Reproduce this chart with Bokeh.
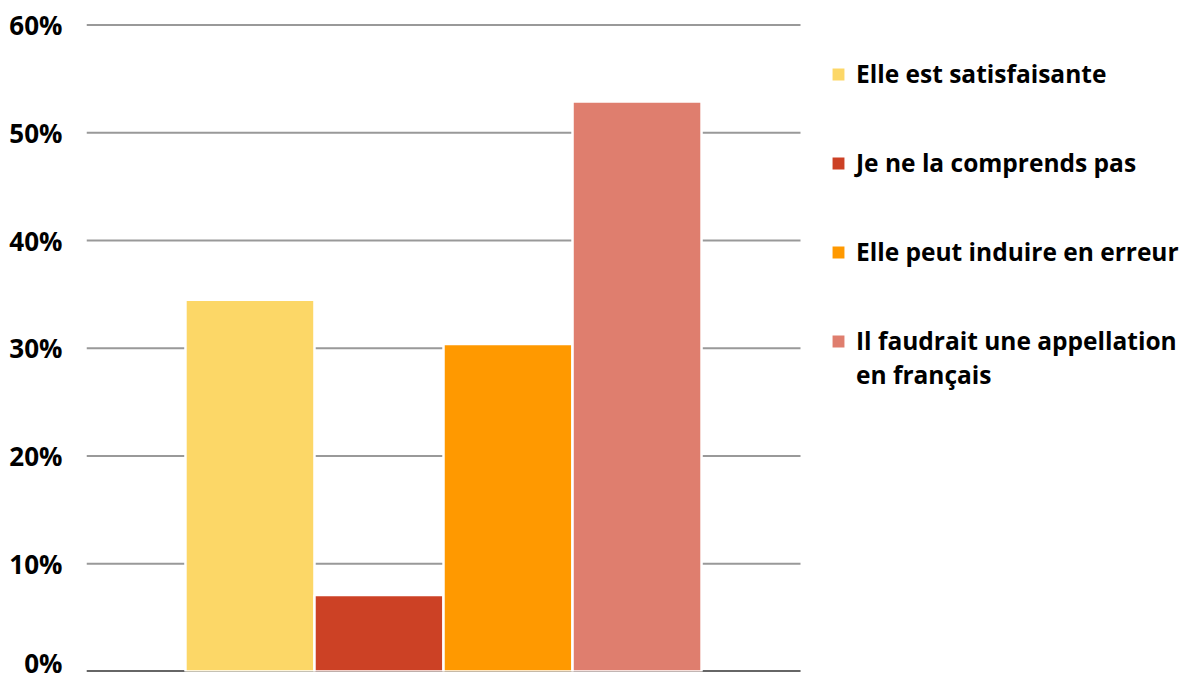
import numpy as np
from bokeh.plotting import figure
from bokeh.models import (ColumnDataSource, Range1d, FixedTicker, PrintfTickFormatter,
                          Legend, LegendItem)
from bokeh.embed import file_html
from bokeh.resources import INLINE

# ---- data ----
categories = ["Elle est satisfaisante", "Je ne la comprends pas",
              "Elle peut induire en erreur", "Il faudrait une appellation"]
label_continuation = "en français"
values = [34.5, 7.1, 30.4, 52.9]
colors = ["#FCD767", "#CC4125", "#FF9900", "#DF7E6E"]
y_ticks = [0, 10, 20, 30, 40, 50, 60]

FONT = "Open Sans"

n = len(categories)
xpos = np.arange(n) - (n - 1) / 2.0
half_span = 2.767          # half width of the plotting area, in bar slots
px_per_slot = 714 / (2 * half_span)
frame_w = 1098
x_end = -half_span + frame_w / px_per_slot

p = figure(frame_width=frame_w, frame_height=648,
           output_backend="svg", toolbar_location=None,
           x_range=Range1d(-half_span, x_end), y_range=Range1d(0, 60.15),
           min_border_left=86, min_border_top=23, min_border_bottom=9,
           min_border_right=0, outline_line_color=None)

# grid lines restricted to the plotting area
grid_src = ColumnDataSource(dict(x0=[-half_span] * len(y_ticks), x1=[half_span] * len(y_ticks),
                                 y=[t for t in y_ticks]))
p.segment(x0="x0", x1="x1", y0="y", y1="y", source=grid_src,
          line_color="#999999", line_width=2, level="underlay")
# baseline
p.segment(x0=[-half_span], x1=[half_span], y0=[0], y1=[0], line_color="black", line_width=2)

renderers = []
for i in range(n):
    src = ColumnDataSource(dict(x=[xpos[i]], top=[values[i]]))
    r = p.vbar(x="x", top="top", bottom=0, width=1.0, source=src,
               fill_color=colors[i], line_color="white", line_width=2.5)
    renderers.append(r)

dummy = p.vbar(x=[], top=[], width=1.0, fill_alpha=0, line_alpha=0)

p.xaxis.visible = False
p.xgrid.visible = False
p.ygrid.visible = False

ya = p.yaxis[0]
ya.ticker = FixedTicker(ticks=y_ticks)
ya.formatter = PrintfTickFormatter(format="%d%%")
ya.axis_line_color = None
ya.major_tick_line_color = None
ya.minor_tick_line_color = None
ya.major_tick_out = 0
ya.major_tick_in = 0
ya.minor_tick_out = 0
ya.major_label_standoff = 24
ya.major_label_text_font = FONT
ya.major_label_text_font_style = "bold"
ya.major_label_text_font_size = "26px"
ya.major_label_text_color = "#000000"

common = dict(margin=0, padding=0, border_line_color=None, background_fill_alpha=0,
              label_text_font=FONT, label_text_font_style="bold",
              label_text_font_size="24.5px", label_text_color="#000000",
              glyph_width=18, glyph_height=18, label_standoff=9)

items = [LegendItem(label=categories[i], renderers=[renderers[i]]) for i in range(n)]
legend = Legend(items=items, location=(743, 314), spacing=56, **common)
p.add_layout(legend, "center")

legend2 = Legend(items=[LegendItem(label=label_continuation, renderers=[dummy])],
                 location=(743, 280), **common)
p.add_layout(legend2, "center")

open("out.html", "w").write(file_html(p, INLINE))
